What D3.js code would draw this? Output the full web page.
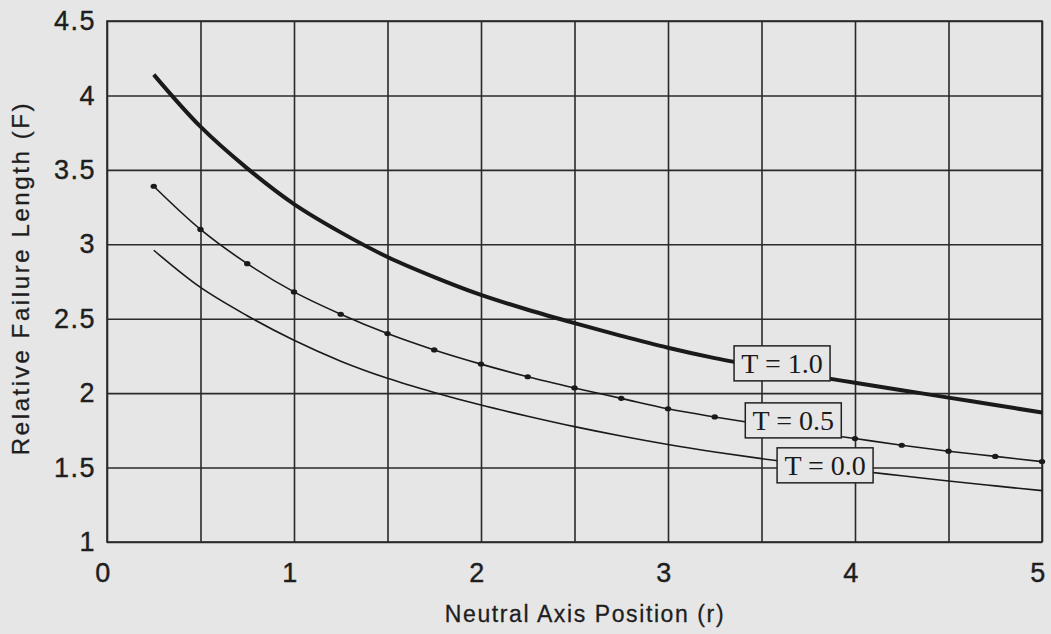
<!DOCTYPE html>
<html>
<head>
<meta charset="utf-8">
<script src="https://cdn.jsdelivr.net/npm/d3@7"></script>
<style>
  body { margin: 0; background: #e6e6e6; }
  #chart { width: 1051px; height: 634px; }
  .tick text { font-family: "Liberation Sans", Arial, sans-serif; font-size: 27px; fill: #1e1e1e; stroke: #1e1e1e; stroke-width: 0.4px; letter-spacing: 1.5px; }
  .grid line { stroke: #2a2a2a; stroke-width: 1.6; }
  .grid path { display: none; }
</style>
</head>
<body>
<div id="chart"></div>
<script>
var width = 1051;
var height = 634;

// neutral axis position r, sampled every 0.25
var rValues = [0.25, 0.5, 0.75, 1.0, 1.25, 1.5, 1.75, 2.0, 2.25, 2.5,
               2.75, 3.0, 3.25, 3.5, 3.75, 4.0, 4.25, 4.5, 4.75, 5.0];

// relative failure length F for each T
var fT10 = [4.14, 3.79, 3.51, 3.27, 3.08, 2.915, 2.78, 2.66, 2.56, 2.47,
            2.385, 2.305, 2.235, 2.175, 2.12, 2.07, 2.02, 1.97, 1.92, 1.87];
var fT05 = [3.39, 3.10, 2.87, 2.68, 2.53, 2.40, 2.29, 2.195, 2.11, 2.035,
            1.965, 1.895, 1.84, 1.79, 1.74, 1.695, 1.65, 1.61, 1.575, 1.54];
var fT00 = [2.96, 2.71, 2.52, 2.355, 2.215, 2.10, 2.005, 1.92, 1.845, 1.775,
            1.712, 1.655, 1.605, 1.56, 1.52, 1.48, 1.445, 1.41, 1.377, 1.345];

var seriesNames = ["T = 1.0", "T = 0.5", "T = 0.0"];
// label anchor (centre of box) in data units
var labelR = [3.61, 3.67, 3.84];
var labelF = [2.20, 1.817, 1.515];

var xTicks = [0, 1, 2, 3, 4, 5];
var yTicks = [1, 1.5, 2, 2.5, 3, 3.5, 4, 4.5];
var xGrid = [0, 0.5, 1, 1.5, 2, 2.5, 3, 3.5, 4, 4.5, 5];

var margin = { left: 107, right: 9, top: 21, bottom: 92 };

var svg = d3.select("#chart")
    .append("svg")
    .attr("width", width)
    .attr("height", height);

svg.append("rect")
    .attr("width", width)
    .attr("height", height)
    .attr("fill", "#e6e6e6");

var xScale = d3.scaleLinear()
    .domain([0, 5])
    .range([margin.left, width - margin.right]);

var yScale = d3.scaleLinear()
    .domain([1, 4.5])
    .range([height - margin.bottom, margin.top]);

// grid lines
svg.append("g")
    .attr("class", "grid")
    .attr("transform", "translate(0 " + (height - margin.bottom) + ")")
    .call(d3.axisBottom(xScale).tickValues(xGrid).tickSize(-(yScale.range()[0] - yScale.range()[1])).tickFormat(""));

svg.append("g")
    .attr("class", "grid")
    .attr("transform", "translate(" + margin.left + " 0)")
    .call(d3.axisLeft(yScale).tickValues(yTicks).tickSize(-(xScale.range()[1] - xScale.range()[0])).tickFormat(""));

// plot frame
svg.append("rect")
    .attr("x", xScale(0))
    .attr("y", yScale(4.5))
    .attr("width", xScale(5) - xScale(0))
    .attr("height", yScale(1) - yScale(4.5))
    .attr("fill", "none")
    .attr("stroke", "#2a2a2a")
    .attr("stroke-width", 1.6);

// tick labels
var xAxis = d3.axisBottom(xScale).tickValues(xTicks).tickSize(0).tickPadding(21).tickFormat(d3.format("d"));
var gx = svg.append("g")
    .attr("transform", "translate(0 " + (height - margin.bottom) + ")")
    .call(xAxis);
gx.select(".domain").remove();
gx.selectAll("text").attr("dx", -4);

var yAxis = d3.axisLeft(yScale).tickValues(yTicks).tickSize(0).tickPadding(11).tickFormat(function(d) { return d % 1 === 0 ? d3.format("d")(d) : d3.format(".1f")(d); });
var gy = svg.append("g")
    .attr("transform", "translate(" + margin.left + " 0)")
    .call(yAxis);
gy.select(".domain").remove();

// curves
var line = d3.line()
    .x(function(d) { return xScale(d[0]); })
    .y(function(d) { return yScale(d[1]); })
    .curve(d3.curveCatmullRom);

var allSeries = [fT10, fT05, fT00];
var strokeWidths = [4, 1.6, 1.6];

allSeries.forEach(function(vals, i) {
    var pts = rValues.map(function(r, j) { return [r, vals[j]]; });
    svg.append("path")
        .datum(pts)
        .attr("d", line)
        .attr("fill", "none")
        .attr("stroke", "#1a1a1a")
        .attr("stroke-width", strokeWidths[i]);
});

// markers on T = 0.5
svg.append("g")
    .selectAll("ellipse")
    .data(rValues.map(function(r, j) { return [r, fT05[j]]; }))
    .join("ellipse")
    .attr("cx", function(d) { return xScale(d[0]); })
    .attr("cy", function(d) { return yScale(d[1]); })
    .attr("rx", 3.2)
    .attr("ry", 2.6)
    .attr("fill", "#1a1a1a");

// boxed labels
seriesNames.forEach(function(name, i) {
    var cx = xScale(labelR[i]);
    var cy = yScale(labelF[i]);
    svg.append("rect")
        .attr("x", cx - 48)
        .attr("y", cy - 17.5)
        .attr("width", 96)
        .attr("height", 35)
        .attr("fill", "#e6e6e6")
        .attr("stroke", "#222")
        .attr("stroke-width", 1.5);
    svg.append("text")
        .attr("x", cx)
        .attr("y", cy + 10)
        .attr("text-anchor", "middle")
        .style("font-family", "'Liberation Serif', 'Times New Roman', serif")
        .style("font-size", "28px")
        .style("fill", "#1a1a1a")
        .text(name);
});

// axis titles
svg.append("text")
    .attr("x", 585)
    .attr("y", 622)
    .attr("text-anchor", "middle")
    .style("font-family", "'Liberation Sans', Arial, sans-serif")
    .style("font-size", "23px")
    .style("letter-spacing", "1.6px")
    .style("fill", "#1e1e1e")
    .style("stroke", "#1e1e1e")
    .style("stroke-width", "0.3px")
    .text("Neutral Axis Position (r)");

svg.append("text")
    .attr("transform", "translate(29 278) rotate(-90)")
    .attr("text-anchor", "middle")
    .style("font-family", "'Liberation Sans', Arial, sans-serif")
    .style("font-size", "24px")
    .style("letter-spacing", "2.6px")
    .style("fill", "#1e1e1e")
    .style("stroke", "#1e1e1e")
    .style("stroke-width", "0.3px")
    .text("Relative Failure Length (F)");
</script>
</body>
</html>
